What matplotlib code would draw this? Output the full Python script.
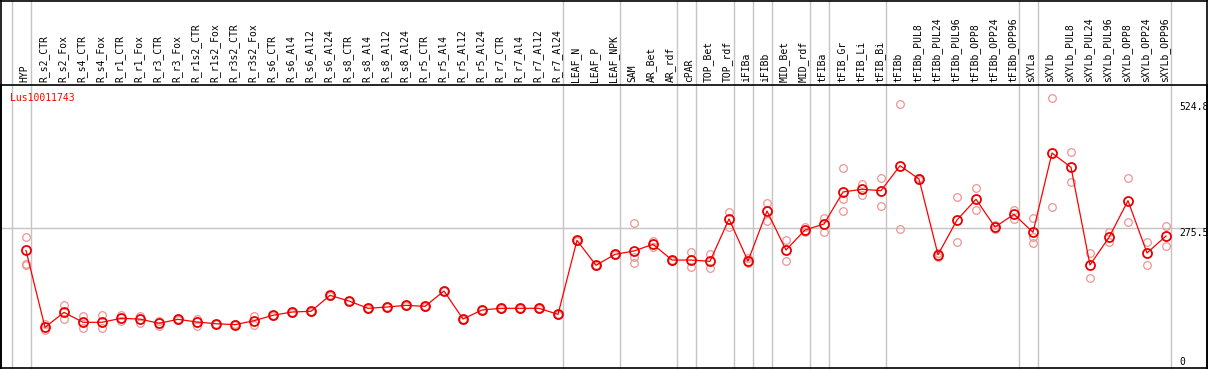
import numpy as np
import matplotlib
matplotlib.use("Agg")
import matplotlib.pyplot as plt
from matplotlib.transforms import blended_transform_factory
from matplotlib.lines import Line2D

plt.rcParams['font.family'] = ['DejaVu Sans Mono']

gene = "Lus10011743"

samples = ["HYP", "R_s2_CTR", "R_s2_Fox", "R_s4_CTR", "R_s4_Fox", "R_r1_CTR", "R_r1_Fox",
           "R_r3_CTR", "R_r3_Fox", "R_r1s2_CTR", "R_r1s2_Fox", "R_r3s2_CTR", "R_r3s2_Fox",
           "R_s6_CTR", "R_s6_Al4", "R_s6_Al12", "R_s6_Al24", "R_s8_CTR", "R_s8_Al4", "R_s8_Al12",
           "R_s8_Al24", "R_r5_CTR", "R_r5_Al4", "R_r5_Al12", "R_r5_Al24", "R_r7_CTR", "R_r7_Al4",
           "R_r7_Al12", "R_r7_Al24", "LEAF_N", "LEAF_P", "LEAF_NPK", "SAM", "AR_Bet", "AR_rdf",
           "cPAR", "TOP_Bet", "TOP_rdf", "iFIBa", "iFIBb", "MID_Bet", "MID_rdf", "tFIBa",
           "tFIB_Gr", "tFIB_Li", "tFIB_Bi", "tFIBb", "tFIBb_PUL8", "tFIBb_PUL24", "tFIBb_PUL96",
           "tFIBb_OPP8", "tFIBb_OPP24", "tFIBb_OPP96", "sXYLa", "sXYLb", "sXYLb_PUL8",
           "sXYLb_PUL24", "sXYLb_PUL96", "sXYLb_OPP8", "sXYLb_OPP24", "sXYLb_OPP96"]

# number of samples in each group (grey separators between groups)
groups = [1, 28, 3, 3, 1, 2, 1, 1, 2, 1, 3, 7, 1, 7]

means = [231, 78.6, 108.4, 88.6, 88.6, 96.5, 95, 86.6, 94.5, 89.2, 85.8, 83.9, 91.8,
         102.5, 109, 110.4, 142, 130.8, 116.3, 118.9, 122.2, 120.2, 150.6, 95.1, 113,
         116.3, 116.3, 116.3, 104.4, 251, 201.6, 223.3, 230, 243.2, 212, 212, 209.5,
         293.4, 210, 309.2, 231.9, 271.6, 283.4, 346.9, 352.2, 349.5, 399, 372.6, 222.6,
         291.4, 332.4, 277.5, 302.6, 267, 424.2, 395.8, 202.2, 257, 329.7, 226, 259.7]

reps = [[258, 205, 203], [84.6, 73.3], [122, 94.5], [100.5, 76.7], [102.5, 76.7],
        [103, 91.8], [101.7, 87.8], [91, 81.3], [96, 93], [94.5, 81.9], [86, 85.5],
        [85, 82.5], [101.7, 83.3], [103, 102], [110, 108], [111, 110], [143, 141],
        [131, 130.5], [117, 115.5], [119.5, 118.3], [123, 121.5], [121, 119.5], [151, 150],
        [96, 94], [113.5, 112.5], [117, 115.5], [117, 115.5], [117, 115.5], [105, 103.8],
        [252, 250], [202, 201], [224, 222.5], [285.4, 218.7, 205.5], [250.4, 237],
        [213, 211], [228, 197.6], [224, 195.6], [307.9, 278], [216.7, 205.5], [325, 290],
        [251.7, 210], [276.9, 267], [295.3, 267.6], [394.4, 333.6, 308.6], [362.7, 340.3],
        [374, 318.5], [521.3, 272.9], [374, 371], [218.7, 226], [336.4, 247.2],
        [354.1, 311.2], [274.2, 281], [311.8, 294], [295.3, 258, 245.2], [532.6, 316.5],
        [425.6, 366.1], [225.3, 175.8], [267.6, 247.2], [374, 286.8], [247.2, 201.6],
        [279.5, 239.2]]

ytick_vals = [524.8, 275.5, 0]
ytick_labels = ["524.8", "275.5", "0"]

W, H = 1209, 370
fig = plt.figure(figsize=(W / 100, H / 100), dpi=100)
L, R, T, B = 1, 1207, 85, 368
ax = fig.add_axes([L / W, (H - B) / H, (R - L) / W, (B - T) / H])

x = np.arange(len(samples))
step = 19.0
x0 = 26.0
ax.set_xlim((L - x0) / step, (R - x0) / step)
scale = 0.5045
ax.set_ylim((367 - B) / scale, (367 - T) / scale)
ax.set_xticks([])
ax.set_yticks([])
for s in ax.spines.values():
    s.set_color('black')
    s.set_linewidth(1.2)

trans = blended_transform_factory(ax.transData, ax.transAxes)
top_frac = 1 + T / (B - T)

# group separators
edges = np.concatenate([[0], np.cumsum(groups)])
for e in edges:
    xs = e - 1 + 0.25
    ax.plot([xs, xs], [0, top_frac], transform=trans, color='#c4c4c4', lw=1.0,
            clip_on=False, zorder=1)
ax.axhline(275.5, color='#c4c4c4', lw=1.0, zorder=1)

# outer frame top border
fig.add_artist(Line2D([L / W, R / W], [1 - 0.6 / H, 1 - 0.6 / H], color='black', lw=1.2))
fig.add_artist(Line2D([L / W, L / W], [(H - B) / H, 1], color='black', lw=1.2))
fig.add_artist(Line2D([R / W, R / W], [(H - B) / H, 1], color='black', lw=1.2))

# header labels
for i, name in enumerate(samples):
    ax.text(i - 0.08, 1 + 3 / (B - T), name, transform=trans, rotation=90,
            ha='center', va='bottom', fontsize=7, color='black')

# replicates
for i, vals in enumerate(reps):
    ax.plot([i] * len(vals), vals, 'o', mfc='none', mec='#f09494', ms=5.5, mew=0.9,
            zorder=2)

# means
ax.plot(x, means, '-', color='#ff0000', lw=0.9, marker='o', mfc='none', mec='#e80000',
        ms=6.5, mew=1.3, zorder=3)

# right value labels
xr = (1179 - x0) / step
offs = [-5, -5, 5]
for v, lab, o in zip(ytick_vals, ytick_labels, offs):
    ax.annotate(lab, xy=(xr, v), xytext=(0, o), textcoords='offset pixels',
                ha='left', va='center', fontsize=7, color='black', annotation_clip=False)

fig.text(10 / W, 1 - 98 / H, gene, color='red', fontsize=7, ha='left', va='center')

fig.savefig("out.png", dpi=100)
